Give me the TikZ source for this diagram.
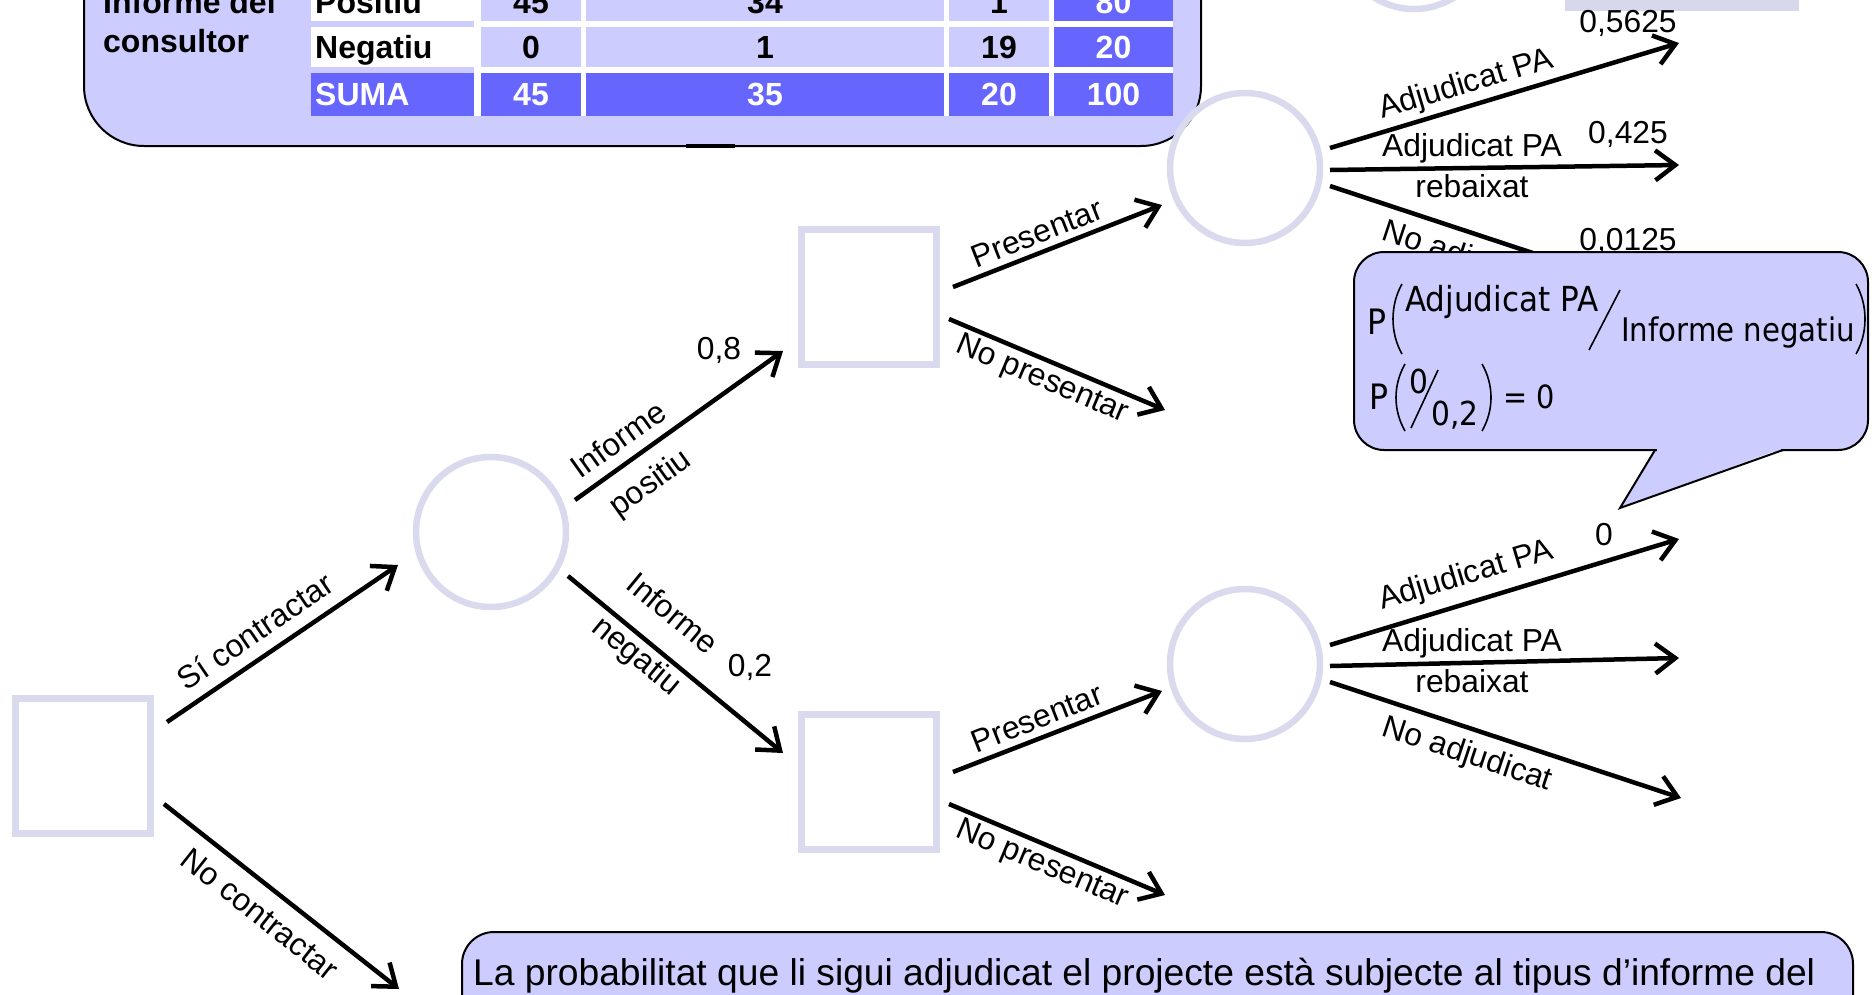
\documentclass[tikz,border=0pt]{standalone}
\usepackage{fontspec}
\setmainfont{Liberation Sans}
\newfontfamily\calfont[FakeStretch=0.9]{DejaVu Sans}
\usetikzlibrary{arrows.meta,calc}
\definecolor{boxfill}{RGB}{204,204,255}
\definecolor{darkcell}{RGB}{102,102,255}
\definecolor{nodeline}{RGB}{218,218,238}
\definecolor{topbar}{RGB}{216,216,236}
\tikzset{
  chance/.style={circle, draw=nodeline, line width=6.5pt, minimum size=150pt, inner sep=0pt},
  decision/.style={rectangle, draw=nodeline, line width=7pt, minimum size=135pt, inner sep=0pt},
  branch/.style={line width=4.5pt, -{Straight Barb[length=20pt,width=30pt]}},
  lbl/.style={font=\fontsize{31.8}{37}\selectfont, inner sep=0pt},
  tcell/.style={font=\fontsize{32}{38}\selectfont\bfseries, inner sep=0pt, anchor=base},
  tleft/.style={font=\fontsize{32}{38}\selectfont\bfseries, inner sep=0pt, anchor=base west},
  boxed/.style={fill=boxfill, draw=black, line width=2pt},
  caltext/.style={inner sep=0pt, anchor=base west},
  paren/.style={line width=1.6pt},
}
\begin{document}
\begin{tikzpicture}[x=1pt,y=-1pt]
\useasboundingbox (0,0) rectangle (1874,994);
\begin{scope}
\clip (0,0) rectangle (1874,994);

% ---------- table box ----------
\draw[boxed, rounded corners=60pt] (84,-120) rectangle (1201,146);
\draw[line width=4pt] (686,146) -- (735,146);
\fill[white] (474,-40) rectangle (1173,116);
\fill[white] (311,-40) rectangle (474,21);
\fill[white] (311,27) rectangle (474,67);
\fill[darkcell] (311,73) rectangle (474,116);
\foreach \ya/\yb in {-40/21, 27/67}{
  \fill[boxfill] (481,\ya) rectangle (581,\yb);
  \fill[boxfill] (586,\ya) rectangle (944,\yb);
  \fill[boxfill] (949,\ya) rectangle (1049,\yb);
  \fill[darkcell] (1054,\ya) rectangle (1173,\yb);
}
\fill[darkcell] (481,73) rectangle (581,116);
\fill[darkcell] (586,73) rectangle (944,116);
\fill[darkcell] (949,73) rectangle (1049,116);
\fill[darkcell] (1054,73) rectangle (1173,116);

\node[tleft] (ti1) at (103,13) {Informe del};
\node[tleft] (ti2) at (103,52) {consultor};
\node[tleft] (tpos) at (315,13) {Positiu};
\node[tleft] (tneg) at (315,58) {Negatiu};
\node[tleft, text=white] (tsum) at (315,105) {SUMA};
\node[tcell] (p1) at (531,13) {45};
\node[tcell] (p2) at (765,13) {34};
\node[tcell] (p3) at (999,13) {1};
\node[tcell, text=white] (p4) at (1113.5,13) {80};
\node[tcell] (n1) at (531,58) {0};
\node[tcell] (n2) at (765,58) {1};
\node[tcell] (n3) at (999,58) {19};
\node[tcell, text=white] (n4) at (1113.5,58) {20};
\node[tcell, text=white] (s1) at (531,105) {45};
\node[tcell, text=white] (s2) at (765,105) {35};
\node[tcell, text=white] (s3) at (999,105) {20};
\node[tcell, text=white] (s4) at (1113.5,105) {100};

% ---------- top partial shapes ----------
\fill[topbar] (1565,-20) rectangle (1799,11);
\node[chance] (C0) at (1414,-66) {};

% ---------- tree nodes ----------
\node[decision] (S0) at (82.5,766) {};
\node[chance] (C1) at (491,532) {};
\node[decision] (S1) at (869,297) {};
\node[decision] (S2) at (869,782) {};
\node[chance] (C2) at (1245,168) {};
\node[chance] (C3) at (1245,664) {};

\coordinate (nc) at (399,989);
\coordinate (np1) at (1165,410);
\coordinate (np2) at (1165,895);
\coordinate (e1a) at (1679,43);
\coordinate (e1b) at (1679,165);
\coordinate (e1c) at (1681,302);
\coordinate (e2a) at (1679,539);
\coordinate (e2b) at (1679,658);
\coordinate (e2c) at (1681,798);

\draw[branch] ($(S0)+(84.5,-44)$) -- ($(C1)+(-93,33)$);
\draw[branch] ($(S0)+(81.5,38)$) -- (nc);
\draw[branch] ($(C1)+(84,-32)$) -- ($(S1)+(-86,54)$);
\draw[branch] ($(C1)+(77,44)$) -- ($(S2)+(-86,-29)$);
\draw[branch] ($(S1)+(84,-10)$) -- ($(C2)+(-83,37)$);
\draw[branch] ($(S1)+(80,22)$) -- (np1);
\draw[branch] ($(S2)+(84,-10)$) -- ($(C3)+(-83,27)$);
\draw[branch] ($(S2)+(80,22)$) -- (np2);
\draw[branch] ($(C2)+(85,-20)$) -- (e1a);
\draw[branch] ($(C2)+(85,2)$) -- (e1b);
\draw[branch] ($(C2)+(85,18)$) -- (e1c);
\draw[branch] ($(C3)+(85,-19)$) -- (e2a);
\draw[branch] ($(C3)+(85,2)$) -- (e2b);
\draw[branch] ($(C3)+(85,18)$) -- (e2c);

% ---------- labels ----------
\node[lbl, rotate=34.2] (lSi) at (255,631) {Sí contractar};
\node[lbl, rotate=-38.3] (lNo) at (260,914) {No contractar};
\node[lbl, rotate=35.6] (lIp1) at (618,439) {Informe};
\node[lbl, rotate=35.6] (lIp2) at (651,484) {positiu};
\node[lbl, rotate=-39.5] (lIn1) at (673,613) {Informe};
\node[lbl, rotate=-39.5] (lIn2) at (636,657) {negatiu};
\node[lbl] (q08) at (719,350) {0,8};
\node[lbl] (q02) at (750,667) {0,2};
\node[lbl, rotate=21.4] (lPr1) at (1037,233) {Presentar};
\node[lbl, rotate=-22.8] (lNp1) at (1042,380) {No presentar};
\node[lbl, rotate=21.4] (lPr2) at (1037,718) {Presentar};
\node[lbl, rotate=-22.8] (lNp2) at (1042,865) {No presentar};

\node[lbl, rotate=16.7] (lA1) at (1466,85) {Adjudicat PA};
\node[lbl] (lR1a) at (1472,148) {Adjudicat PA};
\node[lbl] (lR1b) at (1472,186) {rebaixat};
\node[lbl, rotate=-18.3] (lN1) at (1467,259) {No adjudicat};
\node[lbl] (q1) at (1628,23) {0,5625};
\node[lbl] (q2) at (1628,134) {0,425};
\node[lbl] (q3) at (1628,241) {0,0125};

\node[lbl, rotate=16.7] (lA2) at (1466,576) {Adjudicat PA};
\node[lbl] (lR2a) at (1472,643) {Adjudicat PA};
\node[lbl] (lR2b) at (1472,681) {rebaixat};
\node[lbl, rotate=-18.3] (lN2) at (1467,755) {No adjudicat};
\node[lbl] (q4) at (1604,535) {0};

% ---------- callout ----------
\fill[boxfill] (1655,448) -- (1620,508) -- (1783,448) -- cycle;
\draw[boxed, rounded corners=30pt] (1354,252) rectangle (1868,450);
\fill[boxfill] (1657,446) rectangle (1781,452);
\draw[line width=2pt, line join=miter] (1655,450) -- (1620,508) -- (1783,450);

\node[caltext, font=\calfont\fontsize{35}{40}\selectfont] (cP1) at (1367,334) {P};
\draw[paren] (1402,284) .. controls (1390,305) and (1390,333) .. (1402,354);
\node[caltext, font=\calfont\fontsize{34.5}{40}\selectfont] (cNum) at (1405,311) {Adjudicat PA};
\draw[line width=1.6pt] (1589,350) -- (1620,290);
\node[caltext, font=\calfont\fontsize{32.5}{38}\selectfont] (cDen) at (1621,341) {Informe negatiu};
\draw[paren] (1856,284) .. controls (1868,305) and (1868,333) .. (1856,354);

\node[caltext, font=\calfont\fontsize{35}{40}\selectfont] (cP2) at (1369,409) {P};
\draw[paren] (1405,364) .. controls (1393,385) and (1393,410) .. (1405,431);
\node[caltext, font=\calfont\fontsize{33}{38}\selectfont] (cZ) at (1409,393) {0};
\draw[line width=1.6pt] (1411,428) -- (1438,370);
\node[caltext, font=\calfont\fontsize{33}{38}\selectfont] (cD2) at (1431,425) {0,2};
\draw[paren] (1482,364) .. controls (1494,385) and (1494,410) .. (1482,431);
\node[caltext, font=\calfont\fontsize{32}{38}\selectfont] (cEq) at (1503,408) {= 0};

% ---------- bottom box ----------
\draw[boxed, rounded corners=32pt] (462,932) rectangle (1853,1100);
\node[inner sep=0pt, anchor=base west, font=\fontsize{37.2}{44}\selectfont] (bt) at (473,985)
  {La probabilitat que li sigui adjudicat el projecte està subjecte al tipus d’informe del};
\end{scope}
\end{tikzpicture}
\end{document}
